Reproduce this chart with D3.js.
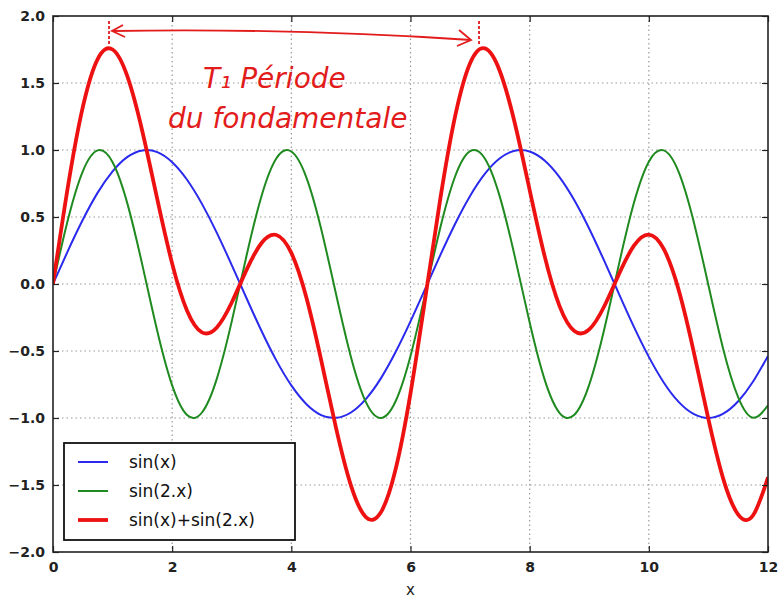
<!DOCTYPE html>
<html>
<head>
<meta charset="utf-8">
<script src="https://cdn.jsdelivr.net/npm/d3@7"></script>
<style>
  body { margin: 0; background: #fff; }
  .chart text { font-family: "DejaVu Sans", sans-serif; }
</style>
</head>
<body>
<div class="chart"></div>
<script>
// sample positions along x
const xs = [0,0.25,0.5,0.75,1,1.25,1.5,1.75,2,2.25,2.5,2.75,3,3.25,3.5,3.75,4,4.25,4.5,4.75,5,5.25,5.5,5.75,
  6,6.25,6.5,6.75,7,7.25,7.5,7.75,8,8.25,8.5,8.75,9,9.25,9.5,9.75,10,10.25,10.5,10.75,11,11.25,11.5,11.75,12]

const sinX = [0,0.247,0.479,0.682,0.841,0.949,0.997,0.984,0.909,0.778,0.598,0.382,0.141,-0.108,-0.351,-0.572,
  -0.757,-0.895,-0.978,-0.999,-0.959,-0.859,-0.706,-0.508,-0.279,-0.033,0.215,0.450,0.657,0.823,0.938,0.995,
  0.989,0.922,0.798,0.625,0.412,0.174,-0.075,-0.320,-0.544,-0.735,-0.880,-0.970,-1.000,-0.968,-0.875,-0.728,-0.537]

const sin2X = [0,0.479,0.841,0.997,0.909,0.598,0.141,-0.351,-0.757,-0.978,-0.959,-0.706,-0.279,0.215,0.657,0.938,
  0.989,0.798,0.412,-0.075,-0.544,-0.880,-1.000,-0.875,-0.537,-0.066,0.420,0.804,0.991,0.935,0.650,0.206,
  -0.288,-0.712,-0.961,-0.976,-0.751,-0.342,0.150,0.606,0.913,0.997,0.837,0.471,-0.009,-0.488,-0.846,-0.998,-0.906]

const sumX = [0,0.726,1.320,1.679,1.750,1.547,1.138,0.633,0.152,-0.200,-0.361,-0.324,-0.138,0.107,0.306,0.366,
  0.232,-0.097,-0.566,-1.074,-1.503,-1.739,-1.706,-1.383,-0.816,-0.099,0.635,1.254,1.648,1.758,1.588,1.201,
  0.701,0.210,-0.163,-0.351,-0.339,-0.168,0.075,0.286,0.369,0.262,-0.043,-0.499,-1.009,-1.456,-1.721,-1.726,-1.443]

const xTicks = [0,2,4,6,8,10,12]
const yTicks = [-2,-1.5,-1,-0.5,0,0.5,1,1.5,2]

const series = [
  {name: "sin(x)", values: sinX, color: "#2a2aee", width: 2},
  {name: "sin(2.x)", values: sin2X, color: "#1f8a1f", width: 2},
  {name: "sin(x)+sin(2.x)", values: sumX, color: "#ee1111", width: 3.8}
]

const margin = {top: 16, right: 10, bottom: 46, left: 53}
const W = 778, H = 598
const width = W - margin.left - margin.right,
  height = H - margin.top - margin.bottom

const svg = d3.select(".chart").append("svg")
  .attr("width", W)
  .attr("height", H)
  .append("g")
  .attr("transform", "translate(" + margin.left + "," + margin.top + ")")

const xScale = d3.scaleLinear().domain([0, 12]).range([0, width])
const yScale = d3.scaleLinear().domain([-2, 2]).range([height, 0])

// grid
svg.append("g").selectAll("line").data(xTicks.slice(1, -1)).join("line")
  .attr("x1", d => xScale(d)).attr("x2", d => xScale(d))
  .attr("y1", 0).attr("y2", height)
  .attr("stroke", "#999").attr("stroke-width", 1.2).attr("stroke-dasharray", "1.5,3")
svg.append("g").selectAll("line").data(yTicks.slice(1, -1)).join("line")
  .attr("y1", d => yScale(d)).attr("y2", d => yScale(d))
  .attr("x1", 0).attr("x2", width)
  .attr("stroke", "#999").attr("stroke-width", 1.2).attr("stroke-dasharray", "1.5,3")

// curves
const line = d3.line()
  .x((d, i) => xScale(xs[i]))
  .y(d => yScale(d))
  .curve(d3.curveNatural)

svg.append("defs").append("clipPath").attr("id", "clip")
  .append("rect").attr("width", width).attr("height", height)

svg.append("g").attr("clip-path", "url(#clip)")
  .selectAll("path").data(series).join("path")
  .attr("d", d => line(d.values))
  .attr("fill", "none")
  .attr("stroke", d => d.color)
  .attr("stroke-width", d => d.width)
  .attr("stroke-linejoin", "round")

// axes (ticks inward, all four sides)
const xAxis = d3.axisBottom(xScale).tickValues(xTicks).tickSize(-6).tickPadding(10).tickFormat(d3.format("d"))
const yAxis = d3.axisLeft(yScale).tickValues(yTicks).tickSize(-6).tickPadding(8).tickFormat(d3.format(".1f"))

svg.append("g").attr("transform", `translate(0,${height})`).call(xAxis)
  .call(g => g.select(".domain").remove())
svg.append("g").call(yAxis)
  .call(g => g.select(".domain").remove())
svg.append("g").call(d3.axisTop(xScale).tickValues(xTicks).tickSize(-6).tickFormat(""))
  .call(g => g.select(".domain").remove())
svg.append("g").attr("transform", `translate(${width},0)`)
  .call(d3.axisRight(yScale).tickValues(yTicks).tickSize(-6).tickFormat(""))
  .call(g => g.select(".domain").remove())

svg.selectAll(".tick text")
  .attr("font-size", 14).attr("font-weight", "bold").attr("fill", "#222")
svg.selectAll(".tick line").attr("stroke", "#222").attr("stroke-width", 1.2)

svg.append("rect")
  .attr("width", width).attr("height", height)
  .attr("fill", "none").attr("stroke", "#222").attr("stroke-width", 1.6)

svg.append("text")
  .attr("x", width / 2).attr("y", height + 43)
  .attr("text-anchor", "middle")
  .attr("font-size", 15).attr("fill", "#222")
  .text("x")

// legend
const legend = svg.append("g").attr("transform", "translate(11,427)")
legend.append("rect")
  .attr("width", 231).attr("height", 97)
  .attr("fill", "#fff").attr("stroke", "#111").attr("stroke-width", 1.8)
const rows = legend.selectAll("g.row").data(series).join("g")
  .attr("class", "row")
  .attr("transform", (d, i) => `translate(0,${19 + i * 29})`)
rows.append("line")
  .attr("x1", 14).attr("x2", 44)
  .attr("stroke", d => d.color).attr("stroke-width", d => d.width)
rows.append("text")
  .attr("x", 65).attr("dy", "0.35em")
  .attr("font-size", 17).attr("fill", "#111")
  .text(d => d.name)

// hand-drawn annotation : period of the fundamental
const p1 = xScale(0.94), p2 = xScale(7.15)
const ann = svg.append("g").attr("stroke", "#e21b1b").attr("fill", "none").attr("stroke-width", 1.8)
ann.selectAll("line.mark").data([p1, p2]).join("line")
  .attr("class", "mark")
  .attr("x1", d => d).attr("x2", d => d)
  .attr("y1", 5).attr("y2", 30)
  .attr("stroke-dasharray", "3,2")
ann.append("path")
  .attr("d", `M${p1 + 3},15 Q${(p1 + p2) / 2},12 ${p2 - 8},24`)
ann.append("path")
  .attr("d", `M${p1 + 14},9 L${p1 + 3},15 L${p1 + 16},21`)
ann.append("path")
  .attr("d", `M${p2 - 20},14 L${p2 - 8},24 L${p2 - 22},30`)

svg.append("text")
  .attr("x", 150).attr("y", 72)
  .attr("font-family", "DejaVu Serif").attr("font-style", "italic")
  .attr("font-size", 28).attr("fill", "#e21b1b")
  .text("T₁ Période")
svg.append("text")
  .attr("x", 115).attr("y", 112)
  .attr("font-family", "DejaVu Serif").attr("font-style", "italic")
  .attr("font-size", 28).attr("fill", "#e21b1b")
  .text("du fondamentale")
</script>
</body>
</html>
